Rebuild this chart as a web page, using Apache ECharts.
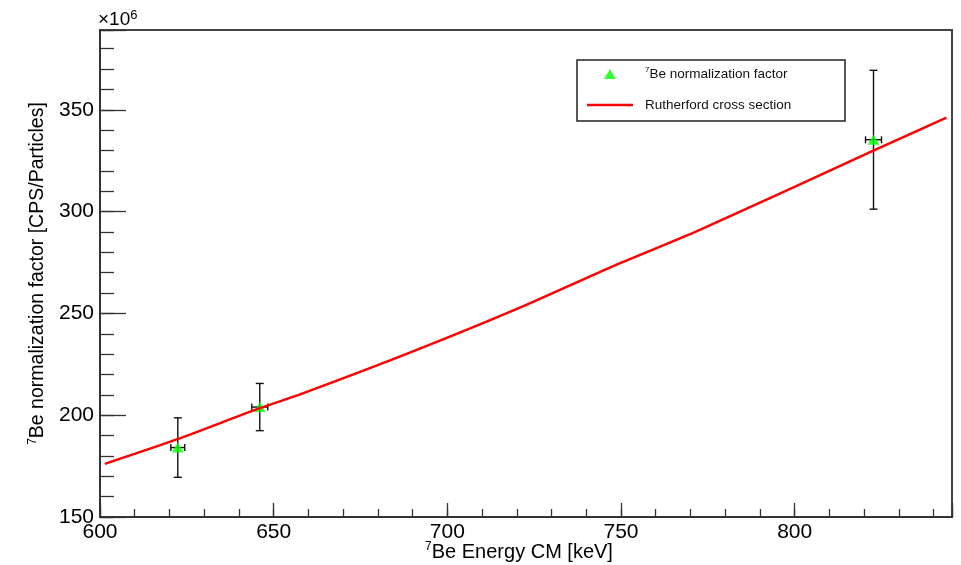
<!DOCTYPE html>
<html>
<head>
<meta charset="utf-8">
<script src="https://cdn.jsdelivr.net/npm/echarts@6/dist/echarts.min.js"></script>
<style>
  html, body { margin: 0; padding: 0; background: #ffffff; }
  #chart { width: 961px; height: 565px; }
</style>
</head>
<body>
<div id="chart"></div>
<script>
// Normalization factor values are in units of 10^6 CPS/Particles.

// Measured 7Be normalization factor
const energyCM   = [622.4, 646.0, 822.7];   // keV
const normFactor = [184.1, 204.0, 335.3];
const energyErr  = [2.0, 2.3, 2.3];
const normErr    = [14.6, 11.6, 34.1];

// Rutherford cross section curve
const rutherfordE = [601.4, 622.1, 645.6, 657.6, 689.2, 720.9, 746.8, 772.7, 822.5, 843.7];
const rutherfordV = [176.1, 188.1, 203.2, 210.2, 230.7, 252.8, 272.5, 291.0, 329.8, 346.2];

// Axis ranges and labelled ticks
const xRange = [600, 845.3];
const yRange = [150, 389.2];
const xTickLabels = [600, 650, 700, 750, 800];
const yTickLabels = [150, 200, 250, 300, 350];

const seriesPoints = '7Be normalization factor';
const seriesCurve = 'Rutherford cross section';

const FONT = '"Liberation Sans", Arial, Helvetica, sans-serif';
const AXIS_COLOR = '#333333';

const chart = echarts.init(document.getElementById('chart'), null, { renderer: 'canvas' });

function errorBars(params, api) {
  const x = api.value(0), y = api.value(1), ex = api.value(2), ey = api.value(3);
  const top = api.coord([x, y + ey]);
  const bot = api.coord([x, y - ey]);
  const lft = api.coord([x - ex, y]);
  const rgt = api.coord([x + ex, y]);
  const capW = 4, capH = 3.5;
  const style = { stroke: '#111111', lineWidth: 1.4 };
  const seg = (x1, y1, x2, y2) => ({ type: 'line', shape: { x1, y1, x2, y2 }, style });
  return {
    type: 'group',
    children: [
      seg(top[0], top[1], bot[0], bot[1]),
      seg(top[0] - capW, top[1], top[0] + capW, top[1]),
      seg(bot[0] - capW, bot[1], bot[0] + capW, bot[1]),
      seg(lft[0], lft[1], rgt[0], rgt[1]),
      seg(lft[0], lft[1] - capH, lft[0], lft[1] + capH),
      seg(rgt[0], rgt[1] - capH, rgt[0], rgt[1] + capH)
    ]
  };
}

const option = {
  animation: false,
  backgroundColor: '#ffffff',
  title: {
    text: '{a|×10}{b|6}',
    left: 98,
    top: 9,
    padding: 0,
    textStyle: {
      fontWeight: 'normal',
      rich: {
        a: { fontFamily: FONT, fontSize: 19, fontWeight: 'normal', color: '#000', lineHeight: 22 },
        b: { fontFamily: FONT, fontSize: 13, fontWeight: 'normal', color: '#000', lineHeight: 14, verticalAlign: 'top' }
      }
    }
  },
  graphic: [{
    type: 'rect',
    shape: { x: 577, y: 60, width: 268, height: 61 },
    style: { fill: 'none', stroke: '#222222', lineWidth: 1.5 },
    z: 10
  }],
  legend: {
    orient: 'vertical',
    left: 587,
    top: 66,
    padding: 0,
    itemWidth: 46,
    itemHeight: 10,
    itemGap: 17,
    symbolKeepAspect: true,
    data: [
      { name: seriesPoints, icon: 'path://M5,0L10,8.5L0,8.5Z' },
      { name: seriesCurve, icon: 'path://M0,0L46,0L46,2.5L0,2.5Z' }
    ],
    formatter: function (name) {
      if (name === seriesPoints) return '{s|7}{t|Be normalization factor}';
      return '{t|' + name + '}';
    },
    textStyle: {
      padding: [0, 0, 0, 7],
      rich: {
        s: { fontFamily: FONT, fontSize: 8, color: '#111', lineHeight: 10, verticalAlign: 'top' },
        t: { fontFamily: FONT, fontSize: 13.5, color: '#111', lineHeight: 16 }
      }
    }
  },
  grid: {
    left: 100, right: 9, top: 30, bottom: 48,
    outerBoundsMode: 'none',
    containLabel: false,
    show: true, borderColor: '#444444', borderWidth: 2, backgroundColor: 'transparent'
  },
  xAxis: [{
    type: 'value',
    min: xRange[0], max: xRange[1], interval: 50,
    position: 'bottom',
    axisLine: { show: true, lineStyle: { color: AXIS_COLOR, width: 2 } },
    axisTick: { show: true, inside: true, length: 14, lineStyle: { color: AXIS_COLOR, width: 1.3 } },
    axisLabel: {
      margin: 5, fontFamily: FONT, fontSize: 21, color: '#000',
      formatter: v => (xTickLabels.indexOf(v) >= 0 ? String(v) : '')
    },
    splitLine: { show: false },
    name: '{s|7}{t|Be Energy CM [keV]}',
    nameLocation: 'middle',
    nameGap: 24,
    nameMoveOverlap: false,
    nameTextStyle: {
      padding: [0, 14, 0, 0],
      rich: {
        s: { fontFamily: FONT, fontSize: 12, color: '#000', lineHeight: 12, verticalAlign: 'top' },
        t: { fontFamily: FONT, fontSize: 20, color: '#000', lineHeight: 22 }
      }
    }
  }, {
    type: 'value',
    min: xRange[0], max: xRange[1], interval: 10,
    position: 'bottom',
    axisLine: { show: false },
    axisTick: { show: true, inside: true, length: 8, lineStyle: { color: AXIS_COLOR, width: 1.3 } },
    axisLabel: { show: false },
    splitLine: { show: false }
  }],
  yAxis: [{
    type: 'value',
    min: yRange[0], max: yRange[1], interval: 50,
    position: 'left',
    axisLine: { show: true, lineStyle: { color: AXIS_COLOR, width: 2 } },
    axisTick: { show: true, inside: true, length: 26, lineStyle: { color: AXIS_COLOR, width: 1.3 } },
    axisLabel: {
      margin: 6, fontFamily: FONT, fontSize: 21, color: '#000',
      formatter: v => (yTickLabels.indexOf(v) >= 0 ? String(v) : '')
    },
    splitLine: { show: false },
    name: '{s|7}{t|Be normalization factor [CPS/Particles]}',
    nameLocation: 'middle',
    nameRotate: 90,
    nameGap: 51,
    nameTextStyle: {
      rich: {
        s: { fontFamily: FONT, fontSize: 12, color: '#000', lineHeight: 12, verticalAlign: 'top' },
        t: { fontFamily: FONT, fontSize: 19.5, color: '#000', lineHeight: 22 }
      }
    }
  }, {
    type: 'value',
    min: yRange[0], max: yRange[1], interval: 10,
    position: 'left',
    axisLine: { show: false },
    axisTick: { show: true, inside: true, length: 14, lineStyle: { color: AXIS_COLOR, width: 1.3 } },
    axisLabel: { show: false },
    splitLine: { show: false }
  }],
  series: [
    {
      type: 'custom',
      name: 'errors',
      xAxisIndex: 0, yAxisIndex: 0,
      silent: true,
      z: 2,
      renderItem: errorBars,
      data: energyCM.map((e, i) => [e, normFactor[i], energyErr[i], normErr[i]])
    },
    {
      type: 'scatter',
      name: seriesPoints,
      xAxisIndex: 0, yAxisIndex: 0,
      symbol: 'triangle',
      symbolSize: [12, 10],
      itemStyle: { color: '#00ff00' },
      z: 3,
      data: energyCM.map((e, i) => [e, normFactor[i]])
    },
    {
      type: 'line',
      name: seriesCurve,
      xAxisIndex: 0, yAxisIndex: 0,
      showSymbol: false,
      symbol: 'none',
      smooth: 0.25,
      lineStyle: { color: '#ff0000', width: 2.5 },
      itemStyle: { color: '#ff0000' },
      z: 4,
      data: rutherfordE.map((e, i) => [e, rutherfordV[i]])
    }
  ]
};

chart.setOption(option);
</script>
</body>
</html>
